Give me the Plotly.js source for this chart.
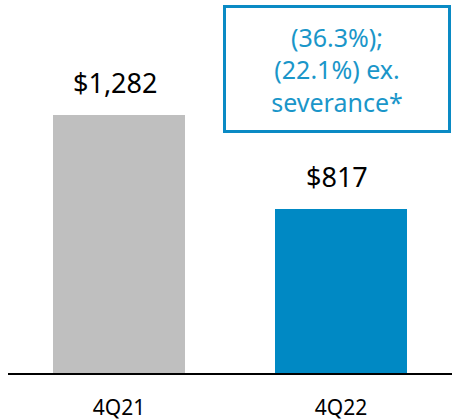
<!DOCTYPE html>
<html>
<head>
<meta charset="utf-8">
<script src="https://cdn.plot.ly/plotly-3.0.1.min.js"></script>
<style>html,body{margin:0;padding:0;background:#fff;}#chart{width:452px;height:420px;}</style>
</head>
<body>
<div id="chart"></div>
<script>
const categories = ["4Q21", "4Q22"];
const values = [1282, 817];
const valueLabels = ["$1,282", "$817"];
const barColors = ["#bfbfbf", "#0089c4"];
const calloutText = "(36.3%);<br>(22.1%) ex.<br>severance*";

const data = [{
  type: "bar",
  x: categories,
  y: values,
  marker: {color: barColors},
  width: 0.595,
  hoverinfo: "skip"
}];

const annotations = categories.map((c, i) => ({
  x: c, y: values[i], xref: "x", yref: "y",
  text: valueLabels[i], showarrow: false,
  yanchor: "bottom", yshift: 12, xshift: -4,
  font: {family: "Noto Sans", size: 27, color: "#000"}
}));

annotations.push({
  xref: "paper", yref: "paper", x: 0.741, y: 0.815,
  xanchor: "center", yanchor: "middle",
  text: calloutText, showarrow: false,
  width: 222, height: 122, borderpad: 0,
  bordercolor: "#0a8ac4", borderwidth: 3, bgcolor: "#ffffff",
  font: {family: "Noto Sans", size: 25, color: "#1a96c9"}
});

const layout = {
  width: 452, height: 420,
  margin: {l: 8, r: 0, t: 0, b: 47},
  paper_bgcolor: "#fff", plot_bgcolor: "#fff",
  showlegend: false,
  bargap: 0,
  xaxis: {
    type: "category", range: [-0.5, 1.5],
    showline: true, linecolor: "#000", linewidth: 1.5,
    ticks: "", showgrid: false, zeroline: false,
    ticklabelstandoff: 15,
    tickfont: {family: "Noto Sans", size: 21, color: "#000"},
    fixedrange: true
  },
  yaxis: {
    range: [0, 1854], visible: false, showgrid: false, zeroline: false, fixedrange: true
  },
  annotations: annotations
};

Plotly.newPlot("chart", data, layout, {displayModeBar: false, staticPlot: true});
</script>
</body>
</html>
